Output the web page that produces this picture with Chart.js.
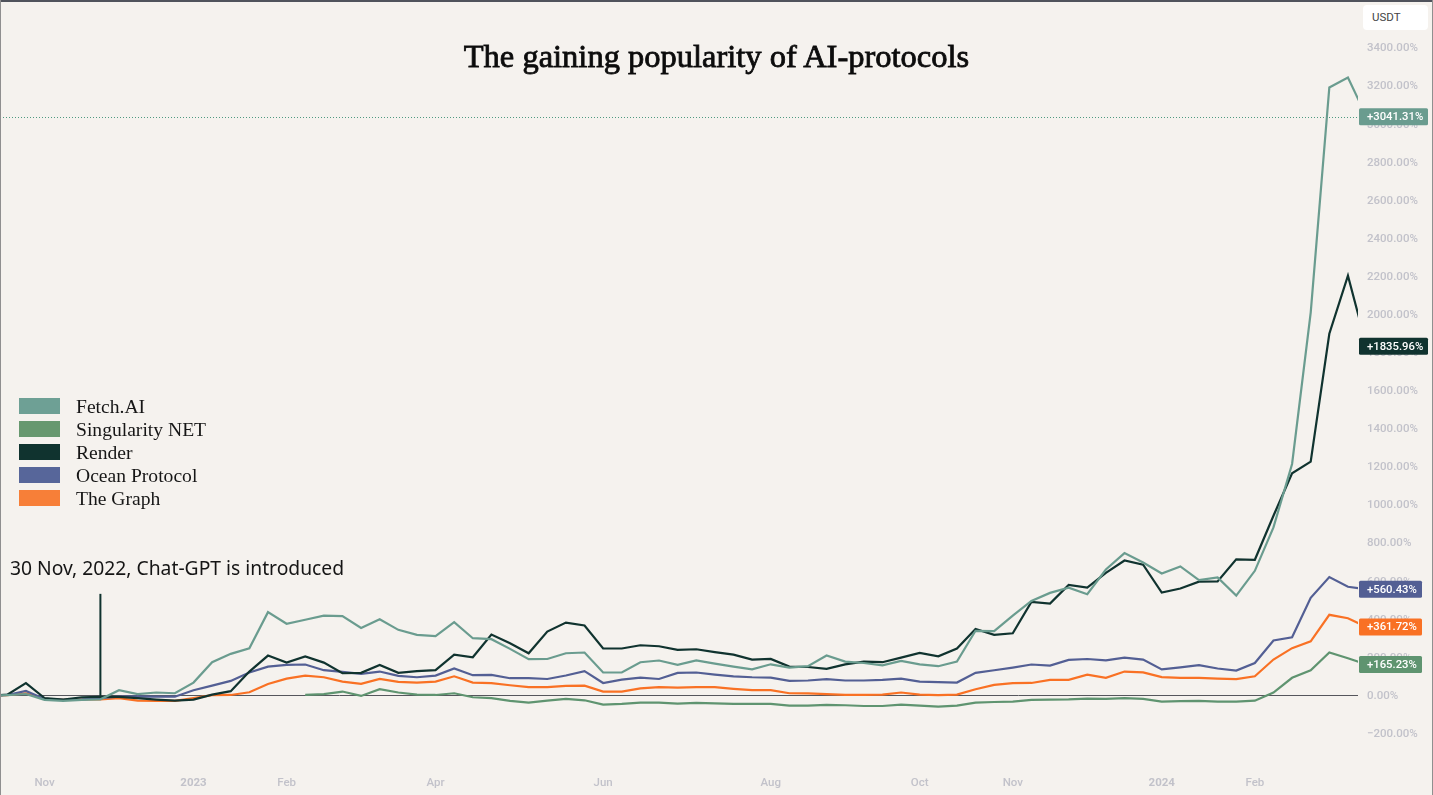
<!DOCTYPE html>
<html>
<head>
<meta charset="utf-8">
<title>The gaining popularity of AI-protocols</title>
<script src="https://cdn.jsdelivr.net/npm/chart.js@4"></script>
<style>
  html, body { margin: 0; padding: 0; background: #f5f2ee; overflow: hidden; }
  #wrap { position: relative; width: 1433px; height: 795px; }
  canvas { position: absolute; left: 0; top: 0; }
  .abs { position: absolute; white-space: nowrap; }
  #edgeTop { left: 0; top: 0; width: 1433px; height: 2px; background: #50535c; }
  #edgeLeft { left: 0; top: 0; width: 1px; height: 795px; background: #8f8f8f; }
  #edgeRight { left: 1432px; top: 0; width: 1px; height: 795px; background: #8f8f8f; }
  #title { left: 0; width: 1433px; top: 38px; text-align: center; color: #0c0c0c;
    font: 32.5px "Liberation Serif", serif; -webkit-text-stroke: 0.8px #0c0c0c; }
  #note { left: 10px; top: 554px; color: #151515; font: 19.3px "Noto Sans", sans-serif; }
  #usdt { left: 1363px; top: 5px; width: 56px; height: 25px; padding-left: 9px;
    background: #fff; border-radius: 4px; color: #444; font: 11.5px/25px Roboto, sans-serif; }
  .swatch { left: 19px; width: 41px; height: 16px; }
  .name { left: 76px; color: #161616; font: 19.6px "Liberation Serif", serif; line-height: 23px; }
</style>
</head>
<body>
<div id="wrap">
  <canvas id="chart" width="1433" height="795"></canvas>
  <div class="abs" id="edgeTop"></div>
  <div class="abs" id="edgeLeft"></div>
  <div class="abs" id="edgeRight"></div>
  <div class="abs" id="title">The gaining popularity of AI-protocols</div>
  <div class="abs" id="note">30 Nov, 2022, Chat-GPT is introduced</div>
  <div class="abs" id="usdt">USDT</div>
  <div id="legend"></div>
</div>
<script>
// weekly % change; first entry is the point left of the frame
const fetchAi = [0,
  4,10,-21,-26,-21,-18,30,10,18,14,70,177,221,250,440,379,400,422,419,357,403,347,
  321,314,387,303,298,247,193,194,224,228,123,123,177,186,163,187,170,154,140,166,149,156,
  212,180,173,161,184,166,156,180,342,340,422,499,541,568,534,664,750,701,643,680,608,
  622,527,657,885,1218,2013,3195,3247,3041.31];
const singularityNet = [null,
  null,null,null,null,null,null,null,null,null,null,null,null,null,null,null,null,5,9,23,0,35,18,
  7,5,14,-7,-12,-26,-35,-25,-16,-23,-46,-42,-35,-35,-40,-37,-39,-42,-42,-42,-51,-51,
  -47,-49,-53,-53,-46,-51,-56,-51,-35,-32,-30,-21,-19,-18,-14,-16,-12,-16,-30,-27,-26,
  -30,-30,-25,18,95,135,228,198,165.23];
const render = [0,
  7,67,-11,-19,-7,-5,-5,-12,-19,-25,-19,7,25,128,212,175,207,175,119,121,163,121,
  130,135,217,203,322,277,224,338,385,370,249,249,266,261,242,245,230,217,191,194,154,152,
  142,166,180,177,201,226,208,249,352,321,329,494,485,583,569,646,711,689,543,564,600,
  601,717,715,946,1169,1230,1902,2207,1835.96];
const oceanProtocol = [0,
  5,26,-16,-21,-18,-12,-4,-2,-4,-4,30,54,79,123,154,163,165,135,126,116,128,105,
  98,107,144,109,110,93,93,89,107,130,68,86,96,89,121,123,112,103,98,96,79,81,
  88,81,81,84,91,75,72,70,121,135,149,165,159,189,194,187,201,191,139,150,162,
  144,133,173,291,308,515,624,573,560.43];
const theGraph = [0,
  4,14,-16,-21,-18,-18,-12,-25,-26,-26,-12,4,5,19,63,91,107,98,75,63,89,74,
  70,75,103,70,67,56,46,46,53,54,23,23,40,46,44,46,46,37,30,30,14,13,
  9,5,5,7,18,7,4,7,35,58,67,68,84,84,112,95,128,124,99,95,95,
  91,88,103,191,251,287,426,408,361.72];

const seriesNames = ['Fetch.AI', 'Singularity NET', 'Render', 'Ocean Protocol', 'The Graph'];
const seriesValues = [fetchAi, singularityNet, render, oceanProtocol, theGraph];
const lineColors = ['#6a9c8f', '#5f9470', '#10332f', '#535f94', '#f97124'];
const legendColors = ['#6ea095', '#67986f', '#10332f', '#57669a', '#f77f38'];

const monthTicks = [2, 10, 15, 23, 32, 41, 49, 54, 62, 67];
const monthLabels = ['Nov', '2023', 'Feb', 'Apr', 'Jun', 'Aug', 'Oct', 'Nov', '2024', 'Feb'];
const percentTicks = [-200, 0, 200, 400, 600, 800, 1000, 1200, 1400, 1600, 1800, 2000, 2200, 2400, 2600, 2800, 3000, 3200, 3400];
const noteWeek = [5, 5];
const noteValues = [0, 536];

// legend next to the line colours
const legendBox = document.getElementById('legend');
seriesNames.forEach((name, i) => {
  const top = 398 + i * 23;
  legendBox.insertAdjacentHTML('beforeend',
    `<div class="abs swatch" style="top:${top}px;background:${legendColors[i]}"></div>` +
    `<div class="abs name" style="top:${top - 3}px">${name}</div>`);
});

const fmtPct = v => (v < 0 ? '\u2212' + Math.abs(v).toFixed(2) : v.toFixed(2)) + '%';

// price line and last-value tags on the right
const lastValueTags = {
  id: 'lastValueTags',
  beforeDatasetsDraw(chart) {
    const y = chart.scales.y, area = chart.chartArea, c = chart.ctx;
    const py = Math.round(y.getPixelForValue(fetchAi[fetchAi.length - 1])) + 0.5;
    c.save();
    c.strokeStyle = '#4f9a80';
    c.lineWidth = 1;
    c.setLineDash([1, 2]);
    c.beginPath();
    c.moveTo(area.left, py);
    c.lineTo(area.right, py);
    c.stroke();
    c.restore();
  },
  afterDraw(chart) {
    const y = chart.scales.y, c = chart.ctx;
    c.save();
    c.font = '500 11.3px Roboto, sans-serif';
    c.textBaseline = 'middle';
    seriesValues.forEach((vals, i) => {
      const last = vals[vals.length - 1];
      const py = y.getPixelForValue(last);
      const label = '+' + last.toFixed(2) + '%';
      const w = last >= 1000 ? 69 : 63;
      c.fillStyle = lineColors[i];
      c.beginPath();
      c.roundRect(1359, py - 8.5, w, 17, 1.5);
      c.fill();
      c.fillStyle = '#fff';
      c.fillText(label, 1367, py + 0.5);
    });
    c.restore();
  }
};

const datasets = seriesNames.map((name, i) => ({
  label: name,
  data: seriesValues[i].map((v, k) => ({ x: k - 1, y: v })),
  borderColor: lineColors[i],
  borderWidth: 2.2,
  pointRadius: 0,
  tension: 0,
  spanGaps: false
}));
datasets.push({
  label: 'Chat-GPT',
  data: noteWeek.map((w, i) => ({ x: w, y: noteValues[i] })),
  borderColor: '#10332f',
  borderWidth: 2,
  pointRadius: 0
});

new Chart(document.getElementById('chart'), {
  type: 'line',
  data: { datasets },
  plugins: [lastValueTags],
  options: {
    responsive: false,
    animation: false,
    layout: { padding: { top: 2 } },
    plugins: { legend: { display: false }, title: { display: false }, tooltip: { enabled: false } },
    scales: {
      x: {
        type: 'linear',
        min: -0.392,
        max: 72.54,
        afterBuildTicks: s => { s.ticks = monthTicks.map(value => ({ value })); },
        afterFit: s => { s.height = 25; },
        border: { display: false },
        grid: { display: false },
        ticks: {
          autoSkip: false,
          maxRotation: 0,
          padding: -2,
          color: '#c2c2ca',
          font: c => ({ family: 'Roboto, sans-serif', size: 11.5,
            weight: c.index === 1 || c.index === 8 ? '700' : '500' }),
          callback: (v, i) => monthLabels[i]
        }
      },
      y: {
        position: 'right',
        min: -389,
        max: 3571,
        afterBuildTicks: s => { s.ticks = percentTicks.map(value => ({ value })); },
        afterFit: s => { s.width = 75; },
        border: { display: false },
        grid: {
          drawTicks: false,
          color: c => (c.tick && c.tick.value === 0 ? '#55565c' : 'transparent')
        },
        ticks: {
          autoSkip: false,
          padding: 9,
          color: '#c2c2ca',
          font: { family: 'Roboto, sans-serif', size: 11.5, weight: '500' },
          callback: v => fmtPct(v)
        }
      }
    }
  }
});
</script>
</body>
</html>
